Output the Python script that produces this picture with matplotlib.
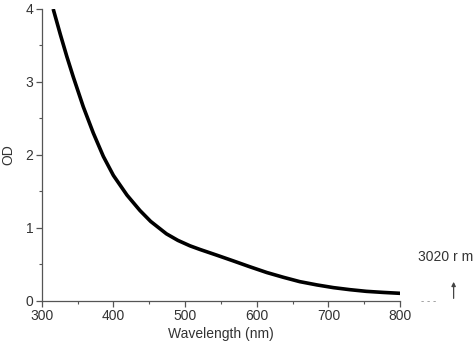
import matplotlib
matplotlib.use("Agg")
import matplotlib.pyplot as plt
from matplotlib.ticker import MultipleLocator

plt.rcParams['font.family'] = ['Liberation Sans', 'DejaVu Sans']

wavelength = [316, 326, 335, 344, 358, 372, 386, 400, 419, 437, 452, 474, 490, 507, 521,
              545, 567, 590, 614, 637, 660, 684, 707, 730, 753, 777, 800]
od = [4.0, 3.65, 3.35, 3.07, 2.66, 2.30, 1.98, 1.72, 1.45, 1.24, 1.09, 0.92, 0.83, 0.755, 0.705,
      0.625, 0.55, 0.47, 0.39, 0.325, 0.265, 0.22, 0.183, 0.155, 0.132, 0.117, 0.105]
x_ticks = [300, 400, 500, 600, 700, 800]
y_ticks = [0, 1, 2, 3, 4]

fig = plt.figure(figsize=(4.74, 3.51), dpi=100)
ax = fig.add_axes([0.088, 0.1425, 0.756, 0.832])
ax.plot(wavelength, od, color='black', linewidth=2.6, solid_capstyle='butt', solid_joinstyle='round')
ax.set_xlim(300, 800)
ax.set_ylim(0, 4)
ax.set_xticks(x_ticks)
ax.set_yticks(y_ticks)
ax.xaxis.set_minor_locator(MultipleLocator(50))
ax.yaxis.set_minor_locator(MultipleLocator(0.5))
for s in ['top', 'right']:
    ax.spines[s].set_visible(False)
for s in ['left', 'bottom']:
    ax.spines[s].set_color('#555555')
    ax.spines[s].set_linewidth(0.9)
ax.tick_params(which='major', direction='out', length=4, width=0.9, color='#555555',
               labelsize=10, labelcolor='#333333', pad=2)
ax.tick_params(which='minor', direction='out', length=2, width=0.8, color='#555555')
ax.set_xlabel('Wavelength (nm)', fontsize=10, color='#333333', labelpad=3)
ax.set_ylabel('OD', fontsize=10, color='#333333', labelpad=7)

fig.text(0.882, 0.268, '3020 r m', fontsize=10, color='#333333', ha='left', va='center')
ax.annotate('', xy=(0.957, 0.205), xytext=(0.957, 0.142), xycoords='figure fraction',
            arrowprops=dict(arrowstyle='-|>', color='#444444', lw=0.9, mutation_scale=6))
fig.text(0.888, 0.143, '- - -', fontsize=7, color='#888888', ha='left', va='center')

fig.savefig('out.png', dpi=100)
